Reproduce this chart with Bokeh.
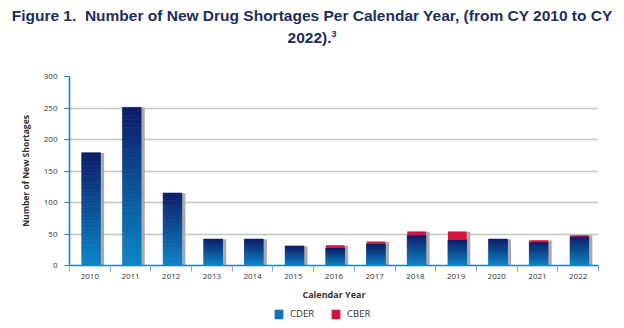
from bokeh.plotting import figure
from bokeh.layouts import column
from bokeh.models import (ColumnDataSource, FixedTicker, Legend, LegendItem, Range1d, Div)
from bokeh.embed import file_html
from bokeh.resources import INLINE

years = ["2010", "2011", "2012", "2013", "2014", "2015", "2016",
         "2017", "2018", "2019", "2020", "2021", "2022"]
cder = [179, 251, 115, 42, 42, 31, 28, 34, 48, 41, 42, 37, 46]
cber = [0, 0, 0, 0, 0, 0, 4, 4, 6, 13, 0, 3, 2]
y_ticks = [0, 50, 100, 150, 200, 250, 300]
series = ["CDER", "CBER"]
series_colors = ["#1173ba", "#d5143f"]
title_line1 = "Figure 1.&nbsp; Number of New Drug Shortages Per Calendar Year, (from CY 2010 to CY"
title_line2 = "2022).<sup style='font-size:9px'>3</sup>"

TOP = (12, 28, 104)
BOT = (12, 134, 200)
N = 40

def mix(f):
    r = [round(BOT[i] + (TOP[i] - BOT[i]) * f) for i in range(3)]
    return "#%02x%02x%02x" % tuple(r)

def bare(fig):
    fig.axis.visible = False
    fig.grid.visible = False
    fig.outline_line_color = None
    fig.background_fill_color = "white"
    fig.border_fill_color = "white"

# ---- header with the two title lines
hdr = Div(text=f"{title_line1}<br>{title_line2}", width=624, height=46,
          margin=(0, 0, 0, 0),
          styles={"text-align": "center", "font-family": "'Liberation Sans', Arial, sans-serif",
                  "font-weight": "bold", "font-size": "15.5px", "line-height": "18px",
                  "color": "#1f2d5e", "padding-top": "7px", "width": "624px",
                  "white-space": "nowrap"})

# ---- main chart
xs = list(range(len(years)))
p = figure(width=624, height=258, output_backend="svg", toolbar_location=None,
           x_range=Range1d(-0.5, len(years) - 0.5), y_range=Range1d(0, 300),
           min_border_left=69, min_border_right=26, min_border_top=30,
           min_border_bottom=39, background_fill_color="white",
           border_fill_color="white")
p.outline_line_color = None

p.xgrid.grid_line_color = None
p.ygrid.grid_line_color = "#c4c4c4"
p.ygrid.grid_line_width = 1.6
p.ygrid.ticker = FixedTicker(ticks=y_ticks)

off = 0.03
bw = 0.46
tot = [a + b for a, b in zip(cder, cber)]
p.vbar(x=[x + off + 0.09 for x in xs], top=[t - 0.5 for t in tot], bottom=0,
       width=bw, fill_color="#ababab", line_color=None)

# gradient CDER bars built from slices of each value
sx, sb, st, sc = [], [], [], []
for x, v in zip(xs, cder):
    for k in range(N):
        sx.append(x + off)
        sb.append(v * k / N)
        st.append(v * (k + 1) / N)
        sc.append(mix((k + 0.5) / N))
p.vbar(x=sx, bottom=sb, top=st, width=bw, fill_color=sc, line_color=sc,
       line_width=0.6)

cb_src = ColumnDataSource(dict(x=[x + off for x in xs], bottom=cder, top=tot))
p.vbar(x="x", bottom="bottom", top="top", width=bw, source=cb_src,
       fill_color=series_colors[1], line_color=None)

xa = p.xaxis[0]
xa.ticker = FixedTicker(ticks=xs, minor_ticks=[x - 0.5 for x in range(len(years) + 1)])
xa.major_label_overrides = {x: y for x, y in zip(xs, years)}
xa.major_tick_line_color = None
xa.major_tick_out = 0
xa.major_tick_in = 0
xa.minor_tick_line_color = "#8aa9c8"
xa.minor_tick_out = 6
xa.minor_tick_in = 0
xa.axis_line_color = "#1b7fc6"
xa.axis_line_width = 1.6
xa.major_label_text_font = "Open Sans"
xa.major_label_text_font_size = "8px"
xa.major_label_text_color = "#333333"
xa.major_label_standoff = 2
xa.axis_label = "Calendar Year"
xa.axis_label_text_font = "Open Sans"
xa.axis_label_text_font_style = "bold"
xa.axis_label_text_font_size = "9px"
xa.axis_label_text_color = "#333333"
xa.axis_label_standoff = 6

ya = p.yaxis[0]
ya.ticker = FixedTicker(ticks=y_ticks)
ya.minor_tick_line_color = None
ya.major_tick_line_color = "#1b7fc6"
ya.major_tick_out = 5
ya.major_tick_in = 0
ya.axis_line_color = "#1b7fc6"
ya.axis_line_width = 1.6
ya.major_label_text_font = "Open Sans"
ya.major_label_text_font_size = "8px"
ya.major_label_text_color = "#333333"
ya.major_label_standoff = 7
ya.axis_label = "Number of New Shortages"
ya.axis_label_text_font = "Open Sans"
ya.axis_label_text_font_style = "bold"
ya.axis_label_text_font_size = "8.5px"
ya.axis_label_text_color = "#333333"
ya.axis_label_standoff = 10

# ---- legend strip (its frame is aligned with the chart frame)
lg = figure(width=624, height=24, output_backend="svg", toolbar_location=None,
            x_range=Range1d(0, 1), y_range=Range1d(0, 1), min_border=0)
bare(lg)
items = []
for name, col in zip(series, series_colors):
    r = lg.vbar(x=[-5], top=[0], width=0.5, fill_color=col, line_color=None)
    items.append(LegendItem(label=name, renderers=[r]))
legend = Legend(items=items,
                orientation="horizontal", location=(204, 8),
                glyph_width=11, glyph_height=12, label_standoff=6, spacing=16,
                padding=0, margin=0, border_line_color=None,
                background_fill_alpha=0,
                label_text_font="Open Sans", label_text_font_size="9.5px",
                label_text_color="#333333", label_height=12)
lg.add_layout(legend, "center")

page = column(hdr, p, lg, spacing=0)
open("out.html", "w").write(file_html(page, INLINE))
